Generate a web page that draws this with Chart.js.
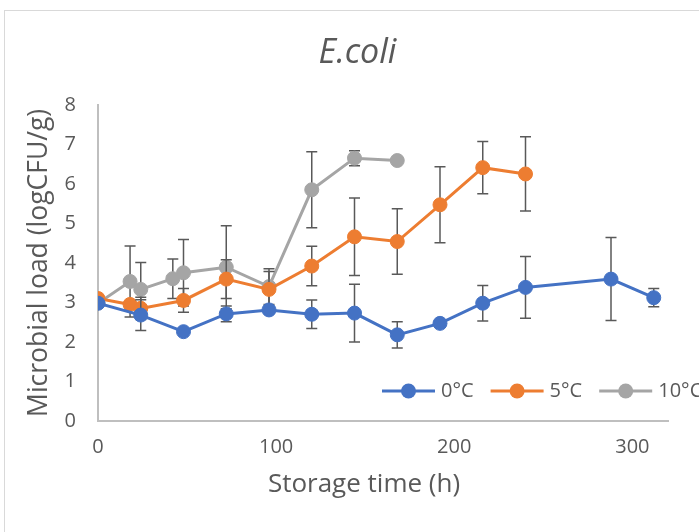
<!DOCTYPE html>
<html>
<head>
<meta charset="utf-8">
<title>E.coli</title>
<script src="https://cdn.jsdelivr.net/npm/chart.js@4.4.0/dist/chart.umd.min.js"></script>
<style>
  html, body { margin: 0; padding: 0; background: #fff; }
  #wrap { position: relative; width: 699px; height: 532px; overflow: hidden; }
  #frame { position: absolute; left: 4px; top: 10px; width: 760px; height: 560px; border: 1px solid #d9d9d9; }
  #chart { position: absolute; left: 0; top: 0; }
</style>
</head>
<body>
<div id="wrap">
  <div id="frame"></div>
  <canvas id="chart" width="715" height="532"></canvas>
</div>
<script>
// E. coli counts (log CFU/g) vs storage time, mean ± error per sampling point
const seriesLabels = ["0°C", "5°C", "10°C"];

const hours0 = [0, 24, 48, 72, 96, 120, 144, 168, 192, 216, 240, 288, 312];
const load0  = [2.98, 2.68, 2.26, 2.71, 2.81, 2.70, 2.73, 2.18, 2.47, 2.98, 3.38, 3.59, 3.12];
const err0   = [0, 0.39, 0, 0.20, 0.05, 0.36, 0.73, 0.33, 0, 0.45, 0.78, 1.05, 0.23];

const hours5 = [0, 18, 24, 48, 72, 96, 120, 144, 168, 192, 216, 240];
const load5  = [3.10, 2.95, 2.85, 3.05, 3.59, 3.33, 3.92, 4.66, 4.54, 5.47, 6.41, 6.25];
const err5   = [0, 0, 0.28, 0.30, 0.49, 0.45, 0.50, 0.98, 0.83, 0.96, 0.66, 0.94];

const hours10 = [0, 18, 24, 42, 48, 72, 96, 120, 144, 168];
const load10  = [2.98, 3.53, 3.33, 3.60, 3.75, 3.89, 3.40, 5.85, 6.65, 6.59];
const err10   = [0, 0.90, 0.68, 0.50, 0.84, 1.05, 0.45, 0.96, 0.19, 0];

const xTicks = [0, 100, 200, 300];
const yTicks = [0, 1, 2, 3, 4, 5, 6, 7, 8];
const xCaption = "Storage time (h)";

const FONT = "'Open Sans', 'DejaVu Sans', sans-serif";
const TEXT = "#595959";
const AXIS = "#bfbfbf";
const colors = ["#4472C4", "#ED7D31", "#A5A5A5"];
const errorSets = [err0, err5, err10];

function points(xs, ys) {
    return xs.map((x, i) => ({ x, y: ys[i] }));
}

function series(label, xs, ys, color) {
    return {
        label,
        data: points(xs, ys),
        borderColor: color,
        backgroundColor: color,
        borderWidth: 3,
        pointRadius: 7,
        pointBorderWidth: 1,
        pointBorderColor: color,
        pointBackgroundColor: color,
        tension: 0,
    };
}

// vertical error bars with caps, painted just before each series so its markers sit on top
const errorBars = {
    id: "errorBars",
    beforeDatasetDraw(chart, args, opts) {
        const errs = errorSets[args.index];
        if (!errs) return;
        const { ctx, scales: { x, y } } = chart;
        const ds = chart.data.datasets[args.index];
        ctx.save();
        ctx.strokeStyle = opts.color;
        ctx.lineWidth = opts.width;
        ds.data.forEach((pt, i) => {
            const e = errs[i];
            if (!e) return;
            const px = x.getPixelForValue(pt.x);
            const top = y.getPixelForValue(pt.y + e);
            const bot = y.getPixelForValue(pt.y - e);
            ctx.beginPath();
            ctx.moveTo(px, top); ctx.lineTo(px, bot);
            ctx.moveTo(px - opts.cap, top); ctx.lineTo(px + opts.cap, top);
            ctx.moveTo(px - opts.cap, bot); ctx.lineTo(px + opts.cap, bot);
            ctx.stroke();
        });
        ctx.restore();
    }
};

// line-with-marker legend sitting inside the plot, bottom right
const lineLegend = {
    id: "lineLegend",
    afterDraw(chart, args, opts) {
        const ctx = chart.ctx;
        ctx.save();
        ctx.font = `${opts.fontSize}px ${FONT}`;
        ctx.textBaseline = "middle";
        ctx.textAlign = "left";
        let x = opts.x;
        const y = opts.y;
        chart.data.datasets.forEach(ds => {
            ctx.strokeStyle = ds.borderColor;
            ctx.lineWidth = 3;
            ctx.beginPath();
            ctx.moveTo(x, y);
            ctx.lineTo(x + opts.lineLen, y);
            ctx.stroke();
            ctx.fillStyle = ds.borderColor;
            ctx.beginPath();
            ctx.arc(x + opts.lineLen / 2, y, 7.5, 0, Math.PI * 2);
            ctx.fill();
            const tx = x + opts.lineLen + opts.gap;
            ctx.fillStyle = opts.color;
            ctx.fillText(ds.label, tx, y);
            x = tx + ctx.measureText(ds.label).width + opts.spacing;
        });
        ctx.restore();
    }
};

// x axis caption, centred a little left of the plot centre like the office-style layout
const xAxisCaption = {
    id: "xAxisCaption",
    afterDraw(chart, args, opts) {
        const ctx = chart.ctx;
        ctx.save();
        ctx.font = `${opts.fontSize}px ${FONT}`;
        ctx.fillStyle = opts.color;
        ctx.textAlign = "center";
        ctx.textBaseline = "middle";
        ctx.fillText(opts.text, opts.x, opts.y);
        ctx.restore();
    }
};

const chart = new Chart(document.getElementById("chart"), {
    type: "line",
    data: {
        datasets: [
            series(seriesLabels[0], hours0, load0, colors[0]),
            series(seriesLabels[1], hours5, load5, colors[1]),
            series(seriesLabels[2], hours10, load10, colors[2]),
        ],
    },
    plugins: [errorBars, lineLegend, xAxisCaption],
    options: {
        responsive: false,
        animation: false,
        devicePixelRatio: 1,
        layout: { padding: 0 },
        plugins: {
            legend: { display: false },
            tooltip: { enabled: false },
            title: {
                display: true,
                text: "E.coli",
                color: TEXT,
                font: { family: FONT, size: 34, style: "italic", weight: "normal", lineHeight: 1.2 },
                padding: { top: 33, bottom: 31 },
            },
            errorBars: { color: "#595959", width: 1.5, cap: 5.5 },
            lineLegend: { x: 382, y: 391, lineLen: 53, gap: 6, spacing: 17, fontSize: 20, color: TEXT },
            xAxisCaption: { text: xCaption, x: 364, y: 485, fontSize: 26, color: TEXT },
        },
        scales: {
            x: {
                type: "linear",
                min: 0,
                max: 320,
                afterBuildTicks: s => { s.ticks = xTicks.map(v => ({ value: v })); },
                afterFit: s => { s.height = 111; },
                grid: { display: false, drawTicks: false },
                border: { display: true, color: AXIS, width: 2 },
                ticks: { color: TEXT, font: { family: FONT, size: 20 }, padding: 14, maxRotation: 0 },
            },
            y: {
                min: 0,
                max: 8,
                afterBuildTicks: s => { s.ticks = yTicks.map(v => ({ value: v })); },
                afterFit: s => { s.width = 98; },
                grid: { display: false, drawTicks: false },
                border: { display: true, color: AXIS, width: 2 },
                ticks: { color: TEXT, font: { family: FONT, size: 20 }, padding: 22 },
                title: {
                    display: true,
                    text: "Microbial load (logCFU/g)",
                    color: TEXT,
                    font: { family: FONT, size: 26.5, lineHeight: 1.2 },
                    padding: { top: 24, bottom: 0 },
                },
            },
            // empty right-hand strip so the plot stops short of the frame's right edge
            gutter: {
                position: "right",
                min: 0,
                max: 1,
                afterFit: s => { s.width = 47; },
                grid: { display: false, drawTicks: false },
                border: { display: false },
                ticks: { display: false },
            },
        },
    },
});
</script>
</body>
</html>
